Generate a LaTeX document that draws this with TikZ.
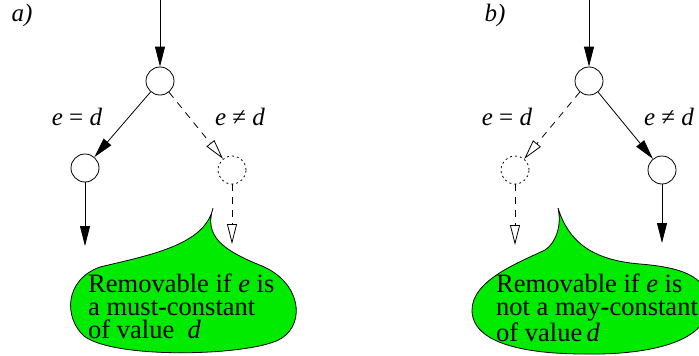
\documentclass[tikz,border=0pt]{standalone}
\usepackage{fontspec}
\setmainfont{Liberation Serif}
\usetikzlibrary{arrows.meta}

\definecolor{blobgreen}{RGB}{0,235,0}

\begin{document}
\begin{tikzpicture}
[
	x=1pt,
	y=-1pt,
	state/.style={circle,draw,line width=0.8pt,inner sep=0pt,minimum size=28pt},
	ghost/.style={state,dash pattern=on 2pt off 3pt},
	taken/.style={-{Triangle[length=20pt,width=10pt]},line width=0.8pt},
	skipped/.style={-{Triangle[open,length=20pt,width=10pt,fill=white]},line width=0.8pt,dash pattern=on 7pt off 6pt},
	lbl/.style={font=\fontsize{25}{25}\selectfont},
	bubble/.style={draw,fill=blobgreen,line width=0.8pt},
	note/.style={align=left,anchor=north west,inner sep=0pt,font=\fontsize{26.5}{23}\selectfont}
]

	\useasboundingbox (0,0) rectangle (699,356);

	% panel a
	\node[lbl] (tagA) at (22,15) {\textit{a)}};
	\coordinate (inA) at (160,0);
	\node[state] (topA) at (160,81) {};
	\node[state] (eqA) at (85,168) {};
	\node[ghost] (neA) at (232,170) {};
	\coordinate (outEqA) at (85,246);
	\coordinate (outNeA) at (232,244);

	\draw[taken] (inA) -- (topA);
	\draw[taken] (topA) -- (eqA);
	\draw[skipped] (topA) -- (neA);
	\draw[taken] (eqA) -- (outEqA);
	\draw[skipped] (neA) -- (outNeA);

	\node[lbl] (eqLblA) at (77,117) {\textit{e} = \textit{d}};
	\node[lbl] (neLblA) at (240,117) {\textit{e} ≠ \textit{d}};

	\draw[bubble] (213,208) .. controls (204,236) and (222,250) .. (262,266)
		.. controls (300,282) and (306,322) .. (282,338)
		.. controls (255,356) and (115,360) .. (84,336)
		.. controls (64,318) and (64,280) .. (100,267)
		.. controls (150,255) and (205,245) .. (213,208) -- cycle;
	\node[note] (noteA) at (88,274) {Removable if \textit{e} is\\a must-constant\\of value\ \ \textit{d}};

	% panel b
	\node[lbl] (tagB) at (495,15) {\textit{b)}};
	\coordinate (inB) at (589,0);
	\node[state] (topB) at (589,81) {};
	\node[ghost] (eqB) at (515,170) {};
	\node[state] (neB) at (662,170) {};
	\coordinate (outEqB) at (515,245);
	\coordinate (outNeB) at (662,243);

	\draw[taken] (inB) -- (topB);
	\draw[skipped] (topB) -- (eqB);
	\draw[taken] (topB) -- (neB);
	\draw[skipped] (eqB) -- (outEqB);
	\draw[taken] (neB) -- (outNeB);

	\node[lbl] (eqLblB) at (507,117) {\textit{e} = \textit{d}};
	\node[lbl] (neLblB) at (669,117) {\textit{e} ≠ \textit{d}};

	\draw[bubble] (558,208) .. controls (568,240) and (590,260) .. (640,264)
		.. controls (690,268) and (708,280) .. (708,305)
		.. controls (708,345) and (640,355) .. (585,354)
		.. controls (530,354) and (472,345) .. (472,310)
		.. controls (472,280) and (520,262) .. (545,250)
		.. controls (556,243) and (562,225) .. (558,208) -- cycle;
	\node[note] (noteB) at (496,274) {Removable if \textit{e} is\\not a may-constant\\of value\,\textit{d}};

\end{tikzpicture}
\end{document}
